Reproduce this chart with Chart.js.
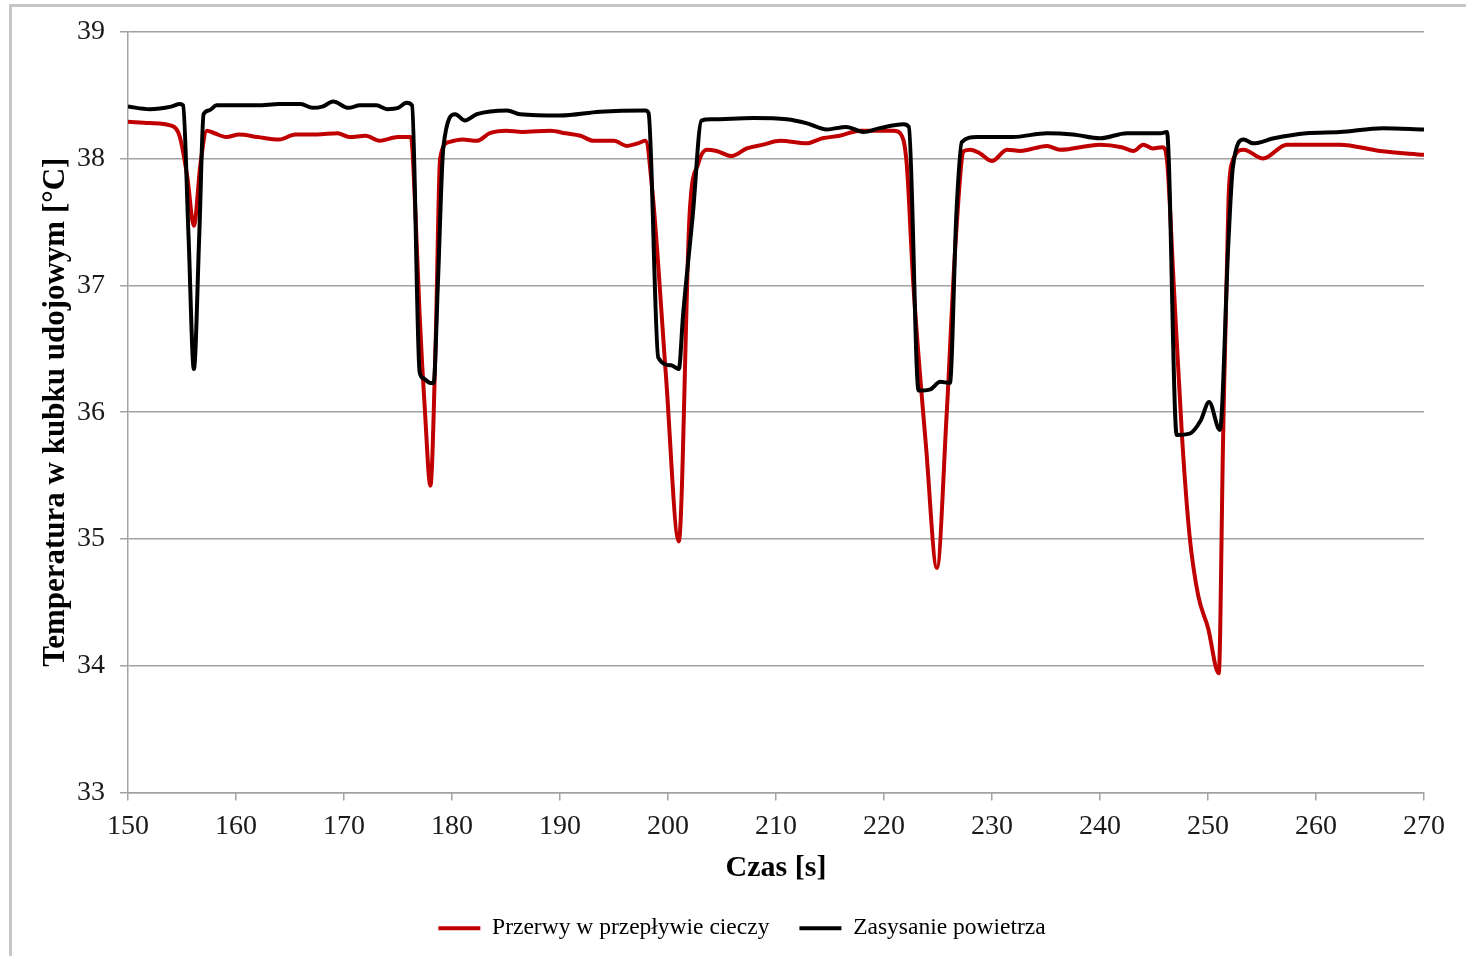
<!DOCTYPE html>
<html lang="pl">
<head>
<meta charset="utf-8">
<title>Temperatura w kubku udojowym</title>
<script src="https://cdn.jsdelivr.net/npm/chart.js@4.4.1/dist/chart.umd.min.js"></script>
<style>
    html, body { margin: 0; padding: 0; background: #fff; overflow: hidden; }
    #frame {
        position: absolute; left: 9px; top: 4px; width: 1500px; height: 1000px;
        border-top: 3px solid #c6c6c6; border-left: 3px solid #c6c6c6;
    }
    #tempChart { position: absolute; left: 0; top: 0; }
</style>
</head>
<body>
<div id="frame"></div>
<canvas id="tempChart" width="1466" height="956"></canvas>
<script>
// Time axis range and step [s]
const timeRange = [150, 270];
const timeStep = 10;
// Temperature axis range and step [°C]
const tempRange = [33, 39];
const tempStep = 1;

const seriesNames = ['Przerwy w przepływie cieczy', 'Zasysanie powietrza'];

// Przerwy w przepływie cieczy
const timeFlow = [150, 152, 154, 154.8, 155.5, 156.1, 156.7, 157.3, 158, 159.1, 160.3, 162, 164, 165.5,
    167.5, 169.4, 170.5, 172, 173.3, 175, 176.2, 176.6, 177, 177.5, 178, 178.5, 178.9, 179.7, 181,
    182.3, 183.5, 185, 186.5, 189.1, 190.5, 191.9, 193.1, 195, 196.2, 197.2, 197.9, 198.6, 199.8,
    201, 202, 202.8, 203.6, 204.5, 205.9, 207.3, 208.8, 210.4, 212.8, 214.3, 215.9, 217.8, 220.9,
    221.5, 222.1, 222.7, 223.9, 224.9, 225.8, 226.6, 227.4, 228, 228.9, 230, 231.4, 232.6, 235.1,
    236.3, 240, 242, 243.1, 244, 244.9, 245.8, 246.2, 246.8, 247.6, 248.3, 249.1, 250, 251, 251.4,
    251.9, 252.2, 253.3, 255.1, 257.3, 262.2, 265.9, 270];
const tempFlow = [38.29, 38.28, 38.26, 38.17, 37.85, 37.47, 37.95, 38.22, 38.20, 38.17, 38.19, 38.17, 38.15, 38.19,
    38.19, 38.20, 38.17, 38.18, 38.14, 38.17, 38.17, 37.6, 36.77, 36.0, 35.42, 36.6, 38.0, 38.13, 38.15,
    38.14, 38.20, 38.22, 38.21, 38.22, 38.20, 38.18, 38.14, 38.14, 38.10, 38.12, 38.14, 37.7, 36.3,
    34.98, 37.56, 37.96, 38.07, 38.06, 38.02, 38.08, 38.11, 38.14, 38.12, 38.16, 38.18, 38.22, 38.22,
    38.20, 37.96, 37.03, 35.72, 34.77, 35.98, 37.30, 38.06, 38.07, 38.04, 37.98, 38.07, 38.06, 38.10,
    38.07, 38.11, 38.09, 38.06, 38.11, 38.08, 38.09, 37.99, 37.05, 35.80, 35.02, 34.55, 34.30, 33.94, 35.80,
    37.68, 37.96, 38.07, 38.00, 38.11, 38.11, 38.06, 38.03];

// Zasysanie powietrza
const timeAir = [150, 152, 154, 154.8, 155.1, 155.6, 156.1, 156.6, 157, 157.5, 158.2, 160, 162, 164, 166,
    167.1, 168, 169, 170.4, 171.5, 173, 174, 175, 175.8, 176.3, 177, 177.3, 178, 178.3, 178.7, 179.2,
    180.3, 181.2, 182.3, 185.1, 186.3, 190, 193.7, 197.9, 198.2, 199.1, 200.3, 201, 201.4, 202.3,
    203.1, 204, 207.9, 211, 212.8, 214.7, 216.5, 218.1, 219.6, 221.8, 222.3, 223.2, 224.3, 225.2,
    226.1, 226.7, 227.2, 228.6, 231.9, 235.1, 237.5, 240, 242.5, 245.6, 246.2, 247.1, 248.3, 249.3,
    250.1, 251.1, 251.9, 252.3, 253.3, 254.2, 256.1, 259.1, 262.2, 266.2, 270];
const tempAir = [38.41, 38.39, 38.41, 38.43, 38.42, 37.4, 36.34, 37.4, 38.35, 38.38, 38.42, 38.42, 38.42, 38.43, 38.43,
    38.40, 38.41, 38.45, 38.40, 38.42, 38.42, 38.39, 38.40, 38.44, 38.42, 36.32, 36.27, 36.23, 36.23, 37.03, 38.09,
    38.35, 38.30, 38.35, 38.38, 38.35, 38.34, 38.37, 38.38, 38.36, 36.43, 36.37, 36.34, 36.77, 37.56,
    38.30, 38.31, 38.32, 38.31, 38.28, 38.23, 38.25, 38.21, 38.24, 38.27, 38.25, 36.17, 36.18, 36.24,
    36.23, 37.56, 38.13, 38.17, 38.17, 38.20, 38.19, 38.16, 38.20, 38.20, 38.21, 35.82, 35.83, 35.93,
    36.08, 35.86, 37.36, 37.93, 38.15, 38.12, 38.16, 38.20, 38.21, 38.24, 38.23];

(function() {
    'use strict';

    const serif = "'Liberation Serif', 'Times New Roman', serif";
    const gridGrey = '#a2a2a2';

    function toPoints(times, temps) {
        return times.map(function(t, i) { return { x: t, y: temps[i] }; });
    }

    // Legend sits centred on the whole chart frame, not just the canvas
    const legendShift = {
        id: 'legendShift',
        afterLayout: function(chart) {
            if (!chart.legend) return;
            chart.legend.left += 30;
            chart.legend.right += 30;
        }
    };

    new Chart(document.getElementById('tempChart'), {
        type: 'line',
        data: {
            datasets: [
                {
                    label: seriesNames[0],
                    data: toPoints(timeFlow, tempFlow),
                    borderColor: '#c00000',
                    backgroundColor: '#c00000',
                    borderWidth: 4,
                    pointRadius: 0,
                    cubicInterpolationMode: 'monotone',
                    order: 2
                },
                {
                    label: seriesNames[1],
                    data: toPoints(timeAir, tempAir),
                    borderColor: '#000000',
                    backgroundColor: '#000000',
                    borderWidth: 4,
                    pointRadius: 0,
                    cubicInterpolationMode: 'monotone',
                    order: 1
                }
            ]
        },
        options: {
            responsive: false,
            animation: false,
            layout: {
                padding: { top: 31, right: 42, bottom: 6, left: 0 }
            },
            plugins: {
                tooltip: { enabled: false },
                legend: {
                    position: 'bottom',
                    labels: {
                        usePointStyle: true,
                        pointStyle: 'line',
                        pointStyleWidth: 42,
                        padding: 30,
                        color: '#000',
                        font: { family: serif, size: 23.5 },
                        // keep dataset order (drawing order puts black on top)
                        sort: function(a, b) { return a.datasetIndex - b.datasetIndex; }
                    }
                }
            },
            scales: {
                x: {
                    type: 'linear',
                    min: timeRange[0],
                    max: timeRange[1],
                    afterFit: function(scale) { scale.height = 94; },
                    ticks: {
                        stepSize: timeStep,
                        padding: 9,
                        color: '#1a1a1a',
                        font: { family: serif, size: 28 },
                        maxRotation: 0
                    },
                    grid: {
                        drawOnChartArea: false,
                        drawTicks: true,
                        tickLength: 8,
                        color: gridGrey,
                        lineWidth: 1.5
                    },
                    border: { color: gridGrey, width: 1.5 },
                    title: {
                        display: true,
                        text: 'Czas [s]',
                        color: '#000',
                        padding: { top: 0, bottom: 0 },
                        font: { family: serif, size: 30, weight: 'bold' }
                    }
                },
                y: {
                    min: tempRange[0],
                    max: tempRange[1],
                    afterFit: function(scale) { scale.width = 128; },
                    ticks: {
                        stepSize: tempStep,
                        padding: 15,
                        color: '#1a1a1a',
                        font: { family: serif, size: 28 }
                    },
                    grid: {
                        drawTicks: true,
                        tickLength: 8,
                        color: gridGrey,
                        lineWidth: 1.5
                    },
                    border: { color: gridGrey, width: 1.5 },
                    title: {
                        display: true,
                        text: 'Temperatura w kubku udojowym [°C]',
                        color: '#000',
                        padding: { top: 37, bottom: 0 },
                        font: { family: serif, size: 31, weight: 'bold' }
                    }
                }
            }
        },
        plugins: [legendShift]
    });
})();
</script>
</body>
</html>
